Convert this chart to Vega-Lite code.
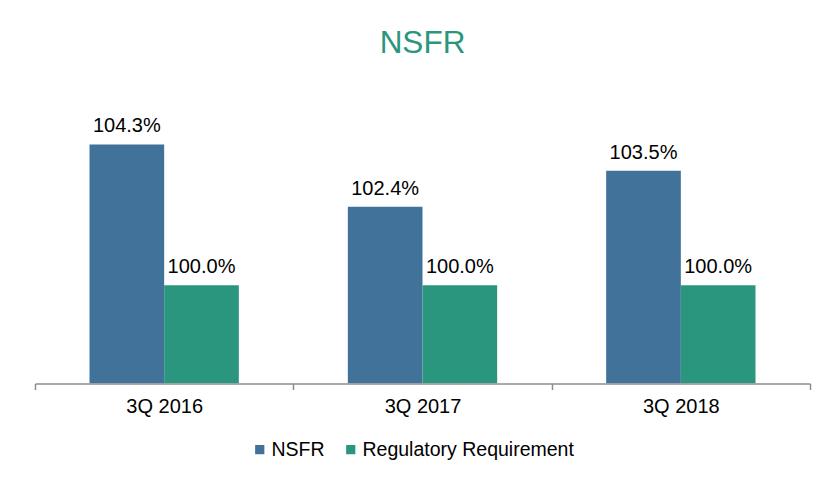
{
  "$schema": "https://vega.github.io/schema/vega-lite/v6.json",
  "autosize": "none",
  "width": 775,
  "height": 262,
  "padding": {"left": 35, "top": 121.5, "right": 12, "bottom": 95.5},
  "background": "white",
  "title": {
    "text": "NSFR",
    "font": "Liberation Sans",
    "fontSize": 31.5,
    "fontWeight": "normal",
    "color": "#2A967E",
    "anchor": "middle",
    "baseline": "alphabetic",
    "offset": 32
  },
  "data": {
    "values": [
      {"quarter": "3Q 2016", "series": "NSFR", "value": 1.043},
      {"quarter": "3Q 2016", "series": "Regulatory Requirement", "value": 1.0},
      {"quarter": "3Q 2017", "series": "NSFR", "value": 1.024},
      {"quarter": "3Q 2017", "series": "Regulatory Requirement", "value": 1.0},
      {"quarter": "3Q 2018", "series": "NSFR", "value": 1.035},
      {"quarter": "3Q 2018", "series": "Regulatory Requirement", "value": 1.0}
    ]
  },
  "encoding": {
    "x": {
      "field": "quarter",
      "type": "nominal",
      "sort": ["3Q 2016", "3Q 2017", "3Q 2018"],
      "scale": {"paddingInner": 0, "paddingOuter": 0},
      "axis": {
        "title": null,
        "labelAngle": 0,
        "tickBand": "extent",
        "domainColor": "#8C8C8C",
        "domainWidth": 1.5,
        "tickColor": "#8C8C8C",
        "tickWidth": 1.5,
        "tickSize": 6,
        "labelPadding": 7,
        "labelFont": "Liberation Sans",
        "labelFontSize": 20,
        "labelColor": "#000000",
        "grid": false,
        "zindex": 1
      }
    },
    "xOffset": {
      "field": "series",
      "type": "nominal",
      "sort": ["NSFR", "Regulatory Requirement"],
      "scale": {"paddingInner": 0, "paddingOuter": 0.73}
    },
    "y": {
      "field": "value",
      "type": "quantitative",
      "scale": {"domain": [0.97, 1.05], "zero": false},
      "axis": null
    }
  },
  "layer": [
    {
      "mark": {"type": "bar", "clip": true},
      "encoding": {
        "y2": {"datum": 0.97},
        "color": {
          "field": "series",
          "type": "nominal",
          "sort": ["NSFR", "Regulatory Requirement"],
          "scale": {"domain": ["NSFR", "Regulatory Requirement"], "range": ["#41729A", "#2B967E"]},
          "legend": {
            "title": null,
            "orient": "none",
            "direction": "horizontal",
            "legendX": 215,
            "legendY": 318,
            "symbolType": "square",
            "symbolSize": 85,
            "symbolStrokeWidth": 0,
            "symbolOffset": 0,
            "labelFont": "Liberation Sans",
            "labelFontSize": 19.5,
            "labelColor": "#000000",
            "labelOffset": 2,
            "labelLimit": 0,
            "columnPadding": 16
          }
        }
      }
    },
    {
      "mark": {
        "type": "text",
        "baseline": "alphabetic",
        "dy": -12,
        "font": "Liberation Sans",
        "fontSize": 20,
        "color": "#000000"
      },
      "encoding": {
        "text": {"field": "value", "type": "quantitative", "format": ".1%"}
      }
    }
  ],
  "config": {"view": {"stroke": null}}
}
